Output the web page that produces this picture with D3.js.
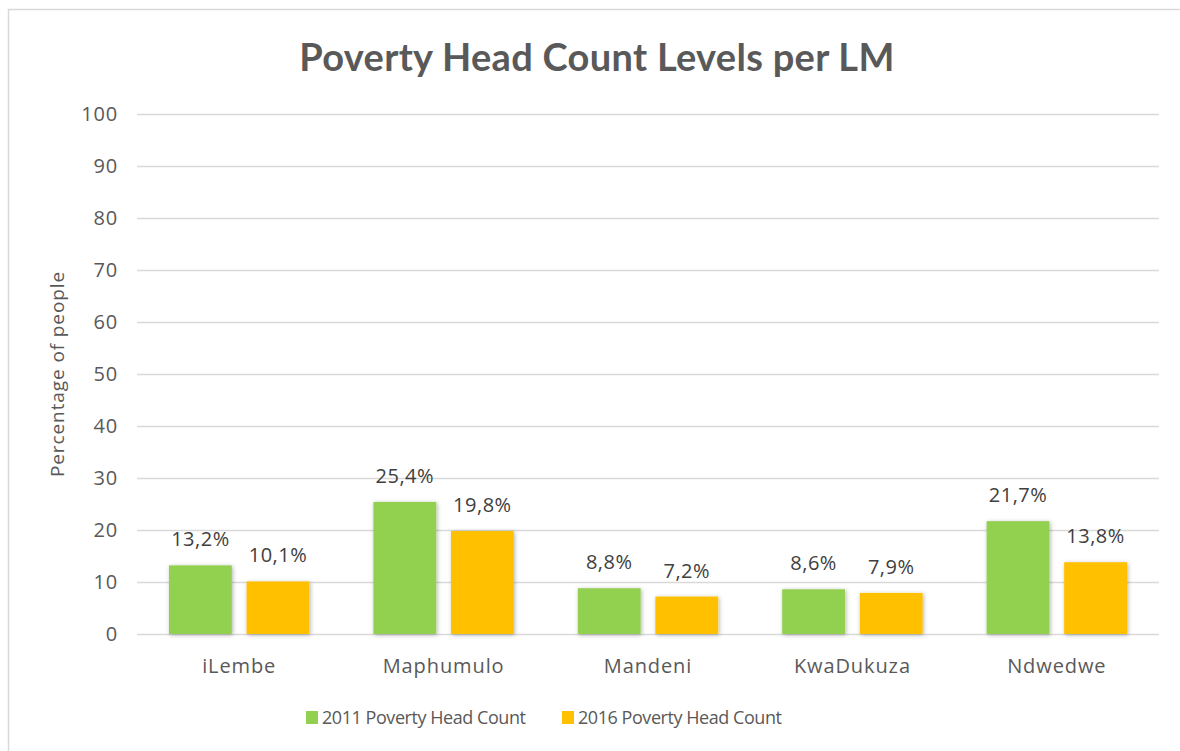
<!DOCTYPE html>
<html>
<head>
<meta charset="utf-8">
<script src="https://cdn.jsdelivr.net/npm/d3@7"></script>
<style>
  html, body { margin: 0; padding: 0; background: #fff; }
  svg { display: block; }
</style>
</head>
<body>
<svg id="chart" width="1180" height="751"></svg>
<script>
// Local municipalities and poverty head count (%) for two census years
const categories = ["iLembe", "Maphumulo", "Mandeni", "KwaDukuza", "Ndwedwe"];
const series2011 = [13.2, 25.4, 8.8, 8.6, 21.7];
const series2016 = [10.1, 19.8, 7.2, 7.9, 13.8];
const seriesNames = ["2011 Poverty Head Count", "2016 Poverty Head Count"];
const seriesColors = ["#92D050", "#FFC000"];
const yTicks = [0, 10, 20, 30, 40, 50, 60, 70, 80, 90, 100];

const svg = d3.select("#chart");
const W = 1180, H = 751;
const margin = { left: 137, right: 21, top: 114, bottom: 117 };
const textColor = "#595959";
const gridColor = "#d9d9d9";
const font = "'Open Sans', sans-serif";

// Soft drop shadow under the bars
const defs = svg.append("defs");
const f = defs.append("filter").attr("id", "barShadow")
  .attr("x", "-20%").attr("y", "-20%").attr("width", "140%").attr("height", "140%");
f.append("feDropShadow").attr("dx", 1).attr("dy", 1).attr("stdDeviation", 2)
  .attr("flood-color", "#000").attr("flood-opacity", 0.3);

// Outer chart frame
svg.append("rect").attr("x", 8.5).attr("y", 9.5).attr("width", 1300).attr("height", 900)
  .attr("fill", "#fff").attr("stroke", gridColor).attr("stroke-width", 1.5);

// Title
svg.append("text")
  .attr("x", 597).attr("y", 71)
  .attr("text-anchor", "middle")
  .attr("font-family", "Lato, 'Open Sans', sans-serif")
  .attr("font-weight", "bold")
  .attr("font-size", 38)
  .attr("letter-spacing", 0.3)
  .attr("fill", textColor)
  .text("Poverty Head Count Levels per LM");

const x0 = d3.scaleBand().domain(categories)
  .range([margin.left, W - margin.right]).paddingInner(0).paddingOuter(0);
const y = d3.scaleLinear().domain([0, 100]).range([H - margin.bottom, margin.top]);

// Each category band holds two bars with an outer gap
const x1 = d3.scaleBand().domain([0, 1])
  .range([32, x0.bandwidth() - 32]).paddingInner(0.19);

// Gridlines and y axis labels
const yAxis = d3.axisLeft(y).tickValues(yTicks).tickSize(-(W - margin.left - margin.right))
  .tickPadding(19).tickFormat(d3.format("d"));
const gy = svg.append("g").attr("transform", `translate(${margin.left},0)`).call(yAxis);
gy.select(".domain").remove();
gy.selectAll(".tick line").attr("stroke", gridColor).attr("stroke-width", 1.5);
gy.selectAll(".tick text")
  .attr("font-family", font).attr("font-size", 20).attr("letter-spacing", 0.8)
  .attr("fill", textColor);

// Y axis title
svg.append("text")
  .attr("transform", `translate(64,${(margin.top + H - margin.bottom) / 2}) rotate(-90)`)
  .attr("text-anchor", "middle")
  .attr("font-family", font).attr("font-size", 19).attr("letter-spacing", 0.9)
  .attr("fill", textColor)
  .text("Percentage of people");

// Bars
const rows = categories.map((c, i) => ({ cat: c, vals: [series2011[i], series2016[i]] }));
const groups = svg.append("g").selectAll("g").data(rows).join("g")
  .attr("transform", d => `translate(${x0(d.cat)},0)`);

groups.selectAll("rect").data(d => d.vals.map((v, k) => ({ v, k }))).join("rect")
  .attr("x", d => x1(d.k))
  .attr("width", x1.bandwidth())
  .attr("y", d => y(d.v))
  .attr("height", d => y(0) - y(d.v))
  .attr("fill", d => seriesColors[d.k])
  .attr("filter", "url(#barShadow)");

// Value labels
const fmt = v => v.toFixed(1).replace(".", ",") + "%";
groups.selectAll("text.val").data(d => d.vals.map((v, k) => ({ v, k }))).join("text")
  .attr("class", "val")
  .attr("x", d => x1(d.k) + x1.bandwidth() / 2)
  .attr("y", d => y(d.v) - 19)
  .attr("text-anchor", "middle")
  .attr("font-family", font).attr("font-size", 20).attr("letter-spacing", 0.5)
  .attr("fill", "#404040")
  .text(d => fmt(d.v));

// Category labels
const xAxis = d3.axisBottom(x0).tickSize(0).tickPadding(25);
const gx = svg.append("g").attr("transform", `translate(0,${y(0)})`).call(xAxis);
gx.select(".domain").remove();
gx.selectAll(".tick text")
  .attr("font-family", font).attr("font-size", 20).attr("letter-spacing", 0.9)
  .attr("fill", textColor);

// Legend
const legend = svg.append("g").attr("transform", "translate(0,718)");
const legendX = [306, 562];
seriesNames.forEach((name, k) => {
  const g = legend.append("g").attr("transform", `translate(${legendX[k]},0)`);
  g.append("rect").attr("x", 0).attr("y", -7).attr("width", 12).attr("height", 13)
    .attr("fill", seriesColors[k]);
  g.append("text").attr("x", 16).attr("y", 0).attr("dy", "0.35em")
    .attr("font-family", font).attr("font-size", 18).attr("letter-spacing", -0.45)
    .attr("fill", textColor).text(name);
});
</script>
</body>
</html>
